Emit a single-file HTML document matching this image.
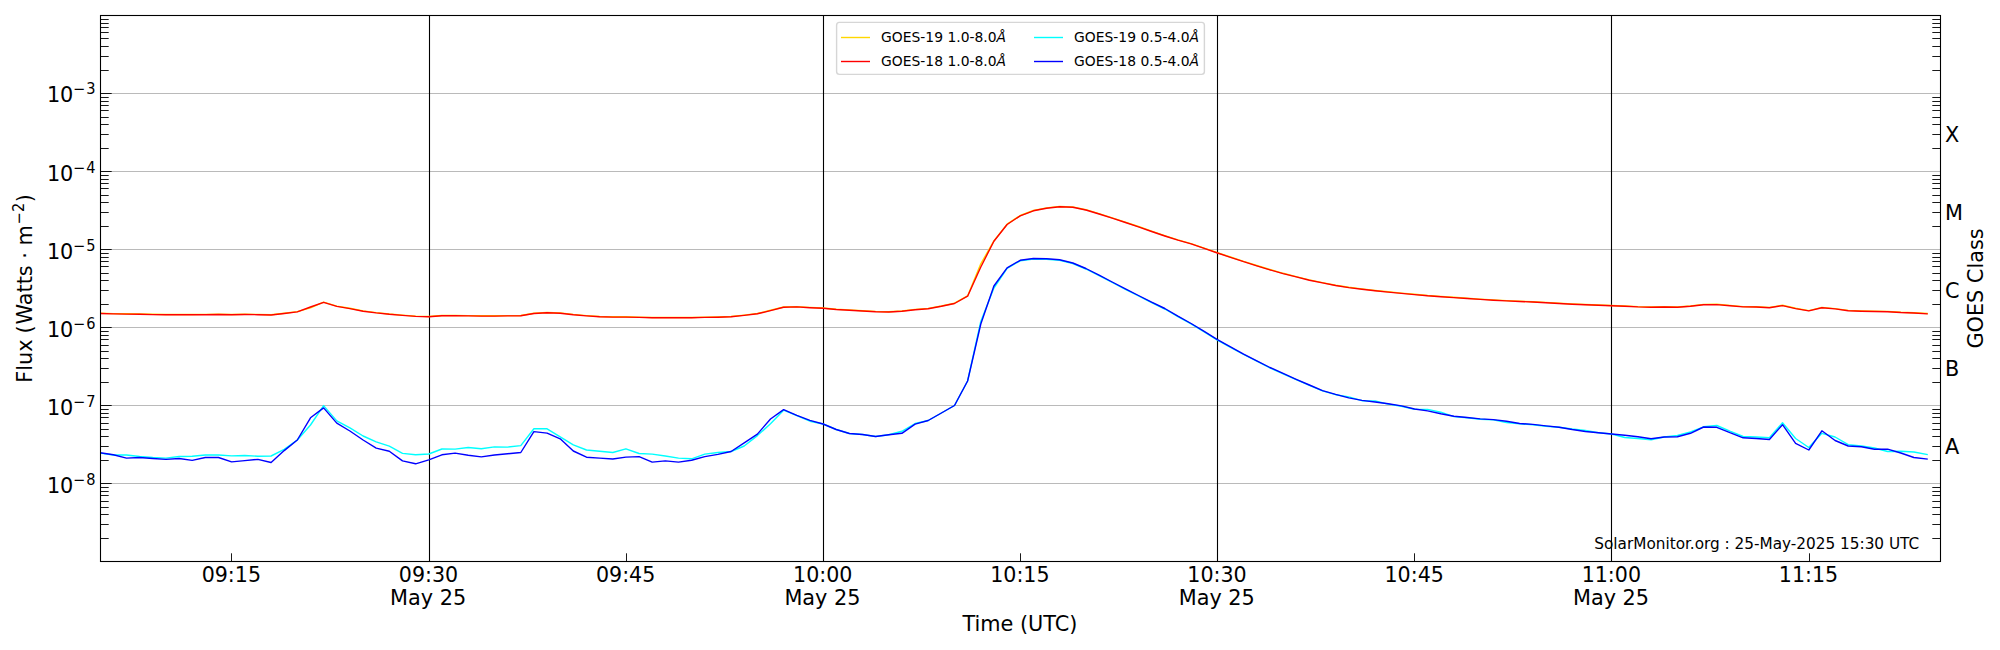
<!DOCTYPE html>
<html lang="en"><head><meta charset="utf-8"><title>GOES X-ray Flux</title>
<style>html,body{margin:0;padding:0;background:#fff}body{width:2000px;height:650px;overflow:hidden}svg{display:block}text{font-family:'DejaVu Sans','Liberation Sans',sans-serif;fill:#000}</style>
</head><body>
<svg width="2000" height="650" viewBox="0 0 2000 650">
<rect width="2000" height="650" fill="#fff"/>
<g stroke="#b0b0b0" stroke-width="0.88" fill="none">
<line x1="100.5" x2="1940.5" y1="483.5" y2="483.5"/>
<line x1="100.5" x2="1940.5" y1="405.5" y2="405.5"/>
<line x1="100.5" x2="1940.5" y1="327.5" y2="327.5"/>
<line x1="100.5" x2="1940.5" y1="249.5" y2="249.5"/>
<line x1="100.5" x2="1940.5" y1="171.5" y2="171.5"/>
<line x1="100.5" x2="1940.5" y1="93.5" y2="93.5"/>
</g>
<g stroke="#000" stroke-width="1.1" fill="none">
<line x1="429.5" x2="429.5" y1="15.5" y2="561.5"/>
<line x1="823.5" x2="823.5" y1="15.5" y2="561.5"/>
<line x1="1217.5" x2="1217.5" y1="15.5" y2="561.5"/>
<line x1="1611.5" x2="1611.5" y1="15.5" y2="561.5"/>
</g>
<clipPath id="ax"><rect x="100.5" y="15.5" width="1840.0" height="546.0"/></clipPath>
<g fill="none" stroke-width="1.4" stroke-linejoin="round" stroke-linecap="square" clip-path="url(#ax)">
<polyline stroke="#ffd700" points="100.2,313.2 113.3,313.6 126.5,313.8 139.6,313.9 152.8,314.3 165.9,314.5 179.1,314.5 192.2,314.5 205.3,314.4 218.5,314.2 231.6,314.5 244.8,314.2 257.9,314.4 271.1,314.7 284.2,313.2 297.3,311.6 310.5,307.9 323.6,302.1 336.8,306.1 349.9,308.3 363.1,310.9 376.2,312.6 389.3,314.0 402.5,315.1 415.6,316.1 428.8,316.5 441.9,315.5 455.1,315.5 468.2,315.6 481.3,315.8 494.5,315.8 507.6,315.6 520.8,315.5 533.9,313.2 547.1,312.5 560.2,312.9 573.3,314.4 586.5,315.6 599.6,316.5 612.8,316.8 625.9,316.8 639.1,317.1 652.2,317.5 665.3,317.5 678.5,317.5 691.6,317.5 704.8,317.1 717.9,316.9 731.1,316.5 744.2,315.1 757.4,313.5 770.5,310.3 783.6,307.0 796.8,306.6 809.9,307.4 823.1,308.0 836.2,309.2 849.4,309.9 862.5,310.7 875.6,311.4 888.8,311.7 901.9,311.0 915.1,309.4 928.2,308.4 941.4,306.0 954.5,303.2 967.6,295.9 980.8,263.8 993.9,240.9 1007.1,224.2 1020.2,215.5 1033.4,210.5 1046.5,207.9 1059.6,206.5 1072.8,206.9 1085.9,209.7 1099.1,213.7 1112.2,217.9 1125.4,222.2 1138.5,226.5 1151.6,231.2 1164.8,235.7 1177.9,239.9 1191.1,243.6 1204.2,248.1 1217.4,252.7 1230.5,257.0 1243.6,261.4 1256.8,265.5 1269.9,269.5 1283.1,273.3 1296.2,276.6 1309.4,279.9 1322.5,282.6 1335.6,285.2 1348.8,287.3 1361.9,288.9 1375.1,290.5 1388.2,291.8 1401.4,293.1 1414.5,294.3 1427.6,295.5 1440.8,296.4 1453.9,297.3 1467.1,298.2 1480.2,299.1 1493.4,299.9 1506.5,300.6 1519.6,301.2 1532.8,301.7 1545.9,302.4 1559.1,303.2 1572.2,303.9 1585.4,304.5 1598.5,305.0 1611.6,305.5 1624.8,306.0 1637.9,306.6 1651.1,306.9 1664.2,306.7 1677.4,307.0 1690.5,306.0 1703.6,304.4 1716.8,304.3 1729.9,305.4 1743.1,306.6 1756.2,306.7 1769.4,307.4 1782.5,305.3 1795.6,308.3 1808.8,310.6 1821.9,307.4 1835.1,308.6 1848.2,310.4 1861.4,310.9 1874.5,311.2 1887.6,311.4 1900.8,312.2 1913.9,312.7 1927.1,313.5"/>
<polyline stroke="#ff0000" points="100.2,313.5 113.3,313.9 126.5,314.1 139.6,314.2 152.8,314.6 165.9,314.8 179.1,314.8 192.2,314.8 205.3,314.7 218.5,314.5 231.6,314.8 244.8,314.5 257.9,314.7 271.1,315.0 284.2,313.5 297.3,311.9 310.5,307.0 323.6,302.4 336.8,306.4 349.9,308.6 363.1,311.2 376.2,312.9 389.3,314.3 402.5,315.4 415.6,316.4 428.8,316.8 441.9,315.8 455.1,315.8 468.2,315.9 481.3,316.1 494.5,316.1 507.6,315.9 520.8,315.8 533.9,313.5 547.1,312.8 560.2,313.2 573.3,314.7 586.5,315.9 599.6,316.8 612.8,317.1 625.9,317.1 639.1,317.4 652.2,317.8 665.3,317.8 678.5,317.8 691.6,317.8 704.8,317.4 717.9,317.2 731.1,316.8 744.2,315.4 757.4,313.8 770.5,310.6 783.6,307.3 796.8,306.9 809.9,307.7 823.1,308.3 836.2,309.5 849.4,310.2 862.5,311.0 875.6,311.7 888.8,312.0 901.9,311.3 915.1,309.7 928.2,308.7 941.4,306.3 954.5,303.5 967.6,296.2 980.8,267.0 993.9,241.2 1007.1,224.5 1020.2,215.8 1033.4,210.8 1046.5,208.2 1059.6,206.8 1072.8,207.2 1085.9,210.0 1099.1,214.0 1112.2,218.2 1125.4,222.5 1138.5,226.8 1151.6,231.5 1164.8,236.0 1177.9,240.2 1191.1,243.9 1204.2,248.4 1217.4,253.0 1230.5,257.3 1243.6,261.7 1256.8,265.8 1269.9,269.8 1283.1,273.6 1296.2,276.9 1309.4,280.2 1322.5,282.9 1335.6,285.5 1348.8,287.6 1361.9,289.2 1375.1,290.8 1388.2,292.1 1401.4,293.4 1414.5,294.6 1427.6,295.8 1440.8,296.7 1453.9,297.6 1467.1,298.5 1480.2,299.4 1493.4,300.2 1506.5,300.9 1519.6,301.5 1532.8,302.0 1545.9,302.7 1559.1,303.5 1572.2,304.2 1585.4,304.8 1598.5,305.3 1611.6,305.8 1624.8,306.3 1637.9,306.9 1651.1,307.2 1664.2,307.0 1677.4,307.3 1690.5,306.3 1703.6,304.7 1716.8,304.6 1729.9,305.7 1743.1,306.9 1756.2,307.0 1769.4,307.7 1782.5,305.6 1795.6,308.6 1808.8,310.9 1821.9,307.7 1835.1,308.9 1848.2,310.7 1861.4,311.2 1874.5,311.5 1887.6,311.7 1900.8,312.5 1913.9,313.0 1927.1,313.8"/>
<polyline stroke="#00ffff" points="100.2,453.1 113.3,455.0 126.5,455.0 139.6,456.5 152.8,457.5 165.9,458.1 179.1,456.5 192.2,456.2 205.3,455.0 218.5,455.0 231.6,455.9 244.8,455.5 257.9,456.2 271.1,456.0 284.2,449.4 297.3,440.0 310.5,425.0 323.6,405.6 336.8,420.9 349.9,427.8 363.1,436.0 376.2,441.9 389.3,446.2 402.5,453.4 415.6,454.8 428.8,454.0 441.9,449.0 455.1,449.1 468.2,447.5 481.3,448.8 494.5,446.9 507.6,447.1 520.8,445.6 533.9,428.8 547.1,428.8 560.2,436.9 573.3,444.8 586.5,450.0 599.6,451.2 612.8,452.5 625.9,448.8 639.1,453.5 652.2,454.1 665.3,456.0 678.5,458.1 691.6,458.8 704.8,454.1 717.9,452.5 731.1,451.5 744.2,446.0 757.4,435.6 770.5,423.8 783.6,410.2 796.8,415.6 809.9,421.2 823.1,424.0 836.2,429.5 849.4,433.5 862.5,434.5 875.6,436.5 888.8,434.8 901.9,431.3 915.1,423.5 928.2,420.5 941.4,413.0 954.5,405.5 967.6,381.0 980.8,321.5 993.9,288.0 1007.1,268.3 1020.2,260.8 1033.4,259.0 1046.5,259.2 1059.6,260.3 1072.8,263.5 1085.9,269.0 1099.1,275.7 1112.2,282.5 1125.4,289.3 1138.5,296.0 1151.6,302.7 1164.8,309.0 1177.9,316.6 1191.1,323.9 1204.2,331.8 1217.4,340.1 1230.5,347.3 1243.6,354.5 1256.8,361.2 1269.9,367.9 1283.1,373.8 1296.2,379.7 1309.4,385.4 1322.5,390.9 1335.6,394.7 1348.8,396.9 1361.9,400.7 1375.1,401.0 1388.2,404.1 1401.4,406.2 1414.5,409.3 1427.6,409.4 1440.8,412.2 1453.9,416.6 1467.1,417.8 1480.2,419.2 1493.4,419.9 1506.5,422.5 1519.6,423.8 1532.8,424.7 1545.9,426.2 1559.1,427.2 1572.2,429.0 1585.4,430.5 1598.5,432.8 1611.6,434.0 1624.8,437.5 1637.9,438.5 1651.1,439.7 1664.2,437.0 1677.4,435.5 1690.5,432.0 1703.6,426.8 1716.8,425.5 1729.9,431.2 1743.1,436.5 1756.2,437.0 1769.4,437.8 1782.5,422.8 1795.6,438.5 1808.8,447.5 1821.9,433.3 1835.1,437.0 1848.2,444.7 1861.4,446.0 1874.5,448.0 1887.6,451.5 1900.8,451.2 1913.9,452.0 1927.1,454.5"/>
<polyline stroke="#0000ff" points="100.2,452.8 113.3,454.8 126.5,458.1 139.6,457.5 152.8,458.5 165.9,459.4 179.1,458.5 192.2,460.4 205.3,457.5 218.5,457.5 231.6,461.9 244.8,460.6 257.9,459.4 271.1,462.5 284.2,450.6 297.3,440.0 310.5,417.8 323.6,407.9 336.8,423.1 349.9,431.0 363.1,440.0 376.2,448.1 389.3,451.2 402.5,460.9 415.6,463.8 428.8,459.8 441.9,454.8 455.1,453.1 468.2,455.2 481.3,456.9 494.5,455.0 507.6,453.8 520.8,452.5 533.9,431.6 547.1,433.1 560.2,438.8 573.3,451.0 586.5,457.2 599.6,458.1 612.8,459.0 625.9,457.1 639.1,456.6 652.2,462.1 665.3,460.9 678.5,462.1 691.6,460.2 704.8,456.6 717.9,454.4 731.1,451.5 744.2,442.9 757.4,434.1 770.5,419.0 783.6,409.6 796.8,415.4 809.9,420.4 823.1,424.0 836.2,429.5 849.4,433.5 862.5,434.5 875.6,436.5 888.8,434.8 901.9,433.3 915.1,424.2 928.2,420.5 941.4,413.0 954.5,405.5 967.6,381.0 980.8,324.0 993.9,286.0 1007.1,267.8 1020.2,260.3 1033.4,258.5 1046.5,258.7 1059.6,259.8 1072.8,263.0 1085.9,268.5 1099.1,275.2 1112.2,282.0 1125.4,288.8 1138.5,295.5 1151.6,302.2 1164.8,308.5 1177.9,316.2 1191.1,323.5 1204.2,331.4 1217.4,339.7 1230.5,346.9 1243.6,354.1 1256.8,360.8 1269.9,367.5 1283.1,373.4 1296.2,379.3 1309.4,385.0 1322.5,390.6 1335.6,394.4 1348.8,397.9 1361.9,400.4 1375.1,402.0 1388.2,403.8 1401.4,405.9 1414.5,409.0 1427.6,410.9 1440.8,413.8 1453.9,416.2 1467.1,417.5 1480.2,418.9 1493.4,419.6 1506.5,421.2 1519.6,423.5 1532.8,424.4 1545.9,425.9 1559.1,427.2 1572.2,429.5 1585.4,431.5 1598.5,432.8 1611.6,434.0 1624.8,435.2 1637.9,436.7 1651.1,438.7 1664.2,437.0 1677.4,436.8 1690.5,433.3 1703.6,427.0 1716.8,427.3 1729.9,432.7 1743.1,437.8 1756.2,438.5 1769.4,439.5 1782.5,424.7 1795.6,443.3 1808.8,450.0 1821.9,430.8 1835.1,440.5 1848.2,446.0 1861.4,446.8 1874.5,449.3 1887.6,449.2 1900.8,453.0 1913.9,457.5 1927.1,459.0"/>
</g>
<g stroke="#000" stroke-width="0.9" fill="none">
<line x1="100.5" x2="108.7" y1="538.5" y2="538.5"/>
<line x1="1932.3" x2="1940.5" y1="538.5" y2="538.5"/>
<line x1="100.5" x2="108.7" y1="524.5" y2="524.5"/>
<line x1="1932.3" x2="1940.5" y1="524.5" y2="524.5"/>
<line x1="100.5" x2="108.7" y1="514.5" y2="514.5"/>
<line x1="1932.3" x2="1940.5" y1="514.5" y2="514.5"/>
<line x1="100.5" x2="108.7" y1="507.5" y2="507.5"/>
<line x1="1932.3" x2="1940.5" y1="507.5" y2="507.5"/>
<line x1="100.5" x2="108.7" y1="501.5" y2="501.5"/>
<line x1="1932.3" x2="1940.5" y1="501.5" y2="501.5"/>
<line x1="100.5" x2="108.7" y1="495.5" y2="495.5"/>
<line x1="1932.3" x2="1940.5" y1="495.5" y2="495.5"/>
<line x1="100.5" x2="108.7" y1="491.5" y2="491.5"/>
<line x1="1932.3" x2="1940.5" y1="491.5" y2="491.5"/>
<line x1="100.5" x2="108.7" y1="487.5" y2="487.5"/>
<line x1="1932.3" x2="1940.5" y1="487.5" y2="487.5"/>
<line x1="100.5" x2="111.7" y1="483.5" y2="483.5"/>
<line x1="100.5" x2="108.7" y1="460.5" y2="460.5"/>
<line x1="1932.3" x2="1940.5" y1="460.5" y2="460.5"/>
<line x1="100.5" x2="108.7" y1="446.5" y2="446.5"/>
<line x1="1932.3" x2="1940.5" y1="446.5" y2="446.5"/>
<line x1="100.5" x2="108.7" y1="436.5" y2="436.5"/>
<line x1="1932.3" x2="1940.5" y1="436.5" y2="436.5"/>
<line x1="100.5" x2="108.7" y1="429.5" y2="429.5"/>
<line x1="1932.3" x2="1940.5" y1="429.5" y2="429.5"/>
<line x1="100.5" x2="108.7" y1="423.5" y2="423.5"/>
<line x1="1932.3" x2="1940.5" y1="423.5" y2="423.5"/>
<line x1="100.5" x2="108.7" y1="417.5" y2="417.5"/>
<line x1="1932.3" x2="1940.5" y1="417.5" y2="417.5"/>
<line x1="100.5" x2="108.7" y1="413.5" y2="413.5"/>
<line x1="1932.3" x2="1940.5" y1="413.5" y2="413.5"/>
<line x1="100.5" x2="108.7" y1="409.5" y2="409.5"/>
<line x1="1932.3" x2="1940.5" y1="409.5" y2="409.5"/>
<line x1="100.5" x2="111.7" y1="405.5" y2="405.5"/>
<line x1="100.5" x2="108.7" y1="382.5" y2="382.5"/>
<line x1="1932.3" x2="1940.5" y1="382.5" y2="382.5"/>
<line x1="100.5" x2="108.7" y1="368.5" y2="368.5"/>
<line x1="1932.3" x2="1940.5" y1="368.5" y2="368.5"/>
<line x1="100.5" x2="108.7" y1="358.5" y2="358.5"/>
<line x1="1932.3" x2="1940.5" y1="358.5" y2="358.5"/>
<line x1="100.5" x2="108.7" y1="351.5" y2="351.5"/>
<line x1="1932.3" x2="1940.5" y1="351.5" y2="351.5"/>
<line x1="100.5" x2="108.7" y1="345.5" y2="345.5"/>
<line x1="1932.3" x2="1940.5" y1="345.5" y2="345.5"/>
<line x1="100.5" x2="108.7" y1="339.5" y2="339.5"/>
<line x1="1932.3" x2="1940.5" y1="339.5" y2="339.5"/>
<line x1="100.5" x2="108.7" y1="335.5" y2="335.5"/>
<line x1="1932.3" x2="1940.5" y1="335.5" y2="335.5"/>
<line x1="100.5" x2="108.7" y1="331.5" y2="331.5"/>
<line x1="1932.3" x2="1940.5" y1="331.5" y2="331.5"/>
<line x1="100.5" x2="111.7" y1="327.5" y2="327.5"/>
<line x1="100.5" x2="108.7" y1="304.5" y2="304.5"/>
<line x1="1932.3" x2="1940.5" y1="304.5" y2="304.5"/>
<line x1="100.5" x2="108.7" y1="290.5" y2="290.5"/>
<line x1="1932.3" x2="1940.5" y1="290.5" y2="290.5"/>
<line x1="100.5" x2="108.7" y1="280.5" y2="280.5"/>
<line x1="1932.3" x2="1940.5" y1="280.5" y2="280.5"/>
<line x1="100.5" x2="108.7" y1="273.5" y2="273.5"/>
<line x1="1932.3" x2="1940.5" y1="273.5" y2="273.5"/>
<line x1="100.5" x2="108.7" y1="266.5" y2="266.5"/>
<line x1="1932.3" x2="1940.5" y1="266.5" y2="266.5"/>
<line x1="100.5" x2="108.7" y1="261.5" y2="261.5"/>
<line x1="1932.3" x2="1940.5" y1="261.5" y2="261.5"/>
<line x1="100.5" x2="108.7" y1="257.5" y2="257.5"/>
<line x1="1932.3" x2="1940.5" y1="257.5" y2="257.5"/>
<line x1="100.5" x2="108.7" y1="253.5" y2="253.5"/>
<line x1="1932.3" x2="1940.5" y1="253.5" y2="253.5"/>
<line x1="100.5" x2="111.7" y1="249.5" y2="249.5"/>
<line x1="100.5" x2="108.7" y1="226.5" y2="226.5"/>
<line x1="1932.3" x2="1940.5" y1="226.5" y2="226.5"/>
<line x1="100.5" x2="108.7" y1="212.5" y2="212.5"/>
<line x1="1932.3" x2="1940.5" y1="212.5" y2="212.5"/>
<line x1="100.5" x2="108.7" y1="202.5" y2="202.5"/>
<line x1="1932.3" x2="1940.5" y1="202.5" y2="202.5"/>
<line x1="100.5" x2="108.7" y1="195.5" y2="195.5"/>
<line x1="1932.3" x2="1940.5" y1="195.5" y2="195.5"/>
<line x1="100.5" x2="108.7" y1="188.5" y2="188.5"/>
<line x1="1932.3" x2="1940.5" y1="188.5" y2="188.5"/>
<line x1="100.5" x2="108.7" y1="183.5" y2="183.5"/>
<line x1="1932.3" x2="1940.5" y1="183.5" y2="183.5"/>
<line x1="100.5" x2="108.7" y1="179.5" y2="179.5"/>
<line x1="1932.3" x2="1940.5" y1="179.5" y2="179.5"/>
<line x1="100.5" x2="108.7" y1="175.5" y2="175.5"/>
<line x1="1932.3" x2="1940.5" y1="175.5" y2="175.5"/>
<line x1="100.5" x2="111.7" y1="171.5" y2="171.5"/>
<line x1="100.5" x2="108.7" y1="148.5" y2="148.5"/>
<line x1="1932.3" x2="1940.5" y1="148.5" y2="148.5"/>
<line x1="100.5" x2="108.7" y1="134.5" y2="134.5"/>
<line x1="1932.3" x2="1940.5" y1="134.5" y2="134.5"/>
<line x1="100.5" x2="108.7" y1="124.5" y2="124.5"/>
<line x1="1932.3" x2="1940.5" y1="124.5" y2="124.5"/>
<line x1="100.5" x2="108.7" y1="117.5" y2="117.5"/>
<line x1="1932.3" x2="1940.5" y1="117.5" y2="117.5"/>
<line x1="100.5" x2="108.7" y1="110.5" y2="110.5"/>
<line x1="1932.3" x2="1940.5" y1="110.5" y2="110.5"/>
<line x1="100.5" x2="108.7" y1="105.5" y2="105.5"/>
<line x1="1932.3" x2="1940.5" y1="105.5" y2="105.5"/>
<line x1="100.5" x2="108.7" y1="101.5" y2="101.5"/>
<line x1="1932.3" x2="1940.5" y1="101.5" y2="101.5"/>
<line x1="100.5" x2="108.7" y1="97.5" y2="97.5"/>
<line x1="1932.3" x2="1940.5" y1="97.5" y2="97.5"/>
<line x1="100.5" x2="111.7" y1="93.5" y2="93.5"/>
<line x1="100.5" x2="108.7" y1="70.5" y2="70.5"/>
<line x1="1932.3" x2="1940.5" y1="70.5" y2="70.5"/>
<line x1="100.5" x2="108.7" y1="56.5" y2="56.5"/>
<line x1="1932.3" x2="1940.5" y1="56.5" y2="56.5"/>
<line x1="100.5" x2="108.7" y1="46.5" y2="46.5"/>
<line x1="1932.3" x2="1940.5" y1="46.5" y2="46.5"/>
<line x1="100.5" x2="108.7" y1="38.5" y2="38.5"/>
<line x1="1932.3" x2="1940.5" y1="38.5" y2="38.5"/>
<line x1="100.5" x2="108.7" y1="32.5" y2="32.5"/>
<line x1="1932.3" x2="1940.5" y1="32.5" y2="32.5"/>
<line x1="100.5" x2="108.7" y1="27.5" y2="27.5"/>
<line x1="1932.3" x2="1940.5" y1="27.5" y2="27.5"/>
<line x1="100.5" x2="108.7" y1="23.5" y2="23.5"/>
<line x1="1932.3" x2="1940.5" y1="23.5" y2="23.5"/>
<line x1="100.5" x2="108.7" y1="19.5" y2="19.5"/>
<line x1="1932.3" x2="1940.5" y1="19.5" y2="19.5"/>
<line x1="231.5" x2="231.5" y1="553.3" y2="561.5"/>
<line x1="626.5" x2="626.5" y1="553.3" y2="561.5"/>
<line x1="1020.5" x2="1020.5" y1="553.3" y2="561.5"/>
<line x1="1414.5" x2="1414.5" y1="553.3" y2="561.5"/>
<line x1="1809.5" x2="1809.5" y1="553.3" y2="561.5"/>
</g>
<rect x="100.5" y="15.5" width="1840.0" height="546.0" stroke="#000" stroke-width="1.1" fill="none"/>
<text transform="translate(95.45,493.00) scale(1,1.0535)" font-size="20.83px" text-anchor="end">10<tspan font-size="14.58px" dy="-7.9">−<tspan dx="0.6">8</tspan></tspan></text>
<text transform="translate(95.45,415.00) scale(1,1.0535)" font-size="20.83px" text-anchor="end">10<tspan font-size="14.58px" dy="-7.9">−<tspan dx="0.6">7</tspan></tspan></text>
<text transform="translate(95.45,337.00) scale(1,1.0535)" font-size="20.83px" text-anchor="end">10<tspan font-size="14.58px" dy="-7.9">−<tspan dx="0.6">6</tspan></tspan></text>
<text transform="translate(95.45,259.00) scale(1,1.0535)" font-size="20.83px" text-anchor="end">10<tspan font-size="14.58px" dy="-7.9">−<tspan dx="0.6">5</tspan></tspan></text>
<text transform="translate(95.45,181.00) scale(1,1.0535)" font-size="20.83px" text-anchor="end">10<tspan font-size="14.58px" dy="-7.9">−<tspan dx="0.6">4</tspan></tspan></text>
<text transform="translate(95.45,102.00) scale(1,1.0535)" font-size="20.83px" text-anchor="end">10<tspan font-size="14.58px" dy="-7.9">−<tspan dx="0.6">3</tspan></tspan></text>
<text transform="translate(231.33,582.00) scale(0.99,1.0535)" font-size="20.83px" text-anchor="middle">09:15</text>
<text transform="translate(428.47,582.00) scale(0.99,1.0535)" font-size="20.83px" text-anchor="middle">09:30</text>
<text transform="translate(428.17,605.00) scale(1,1.0535)" font-size="20.83px" text-anchor="middle">May 25</text>
<text transform="translate(625.61,582.00) scale(0.99,1.0535)" font-size="20.83px" text-anchor="middle">09:45</text>
<text transform="translate(822.76,582.00) scale(0.99,1.0535)" font-size="20.83px" text-anchor="middle">10:00</text>
<text transform="translate(822.46,605.00) scale(1,1.0535)" font-size="20.83px" text-anchor="middle">May 25</text>
<text transform="translate(1019.90,582.00) scale(0.99,1.0535)" font-size="20.83px" text-anchor="middle">10:15</text>
<text transform="translate(1217.04,582.00) scale(0.99,1.0535)" font-size="20.83px" text-anchor="middle">10:30</text>
<text transform="translate(1216.74,605.00) scale(1,1.0535)" font-size="20.83px" text-anchor="middle">May 25</text>
<text transform="translate(1414.19,582.00) scale(0.99,1.0535)" font-size="20.83px" text-anchor="middle">10:45</text>
<text transform="translate(1611.33,582.00) scale(0.99,1.0535)" font-size="20.83px" text-anchor="middle">11:00</text>
<text transform="translate(1611.03,605.00) scale(1,1.0535)" font-size="20.83px" text-anchor="middle">May 25</text>
<text transform="translate(1808.47,582.00) scale(0.99,1.0535)" font-size="20.83px" text-anchor="middle">11:15</text>
<text transform="translate(1019.90,631.00) scale(1,1.0535)" font-size="20.83px" text-anchor="middle">Time (UTC)</text>
<text transform="translate(31.60,382.70) rotate(-90) scale(1,1.0535)" font-size="20.83px" text-anchor="start">Flux <tspan dx="-0.7">(</tspan><tspan dx="0.9">Watts · m</tspan><tspan font-size="14.58px" dy="-6.8" dx="0.9">−<tspan dx="0">2</tspan></tspan><tspan dy="6.8" dx="0.6">)</tspan></text>
<text transform="translate(1945.10,453.70) scale(1,1.0535)" font-size="20.83px" text-anchor="start">A</text>
<text transform="translate(1945.10,375.70) scale(1,1.0535)" font-size="20.83px" text-anchor="start">B</text>
<text transform="translate(1945.10,297.70) scale(1,1.0535)" font-size="20.83px" text-anchor="start">C</text>
<text transform="translate(1945.10,219.70) scale(1,1.0535)" font-size="20.83px" text-anchor="start">M</text>
<text transform="translate(1945.10,141.70) scale(1,1.0535)" font-size="20.83px" text-anchor="start">X</text>
<text transform="translate(1983.20,288.50) rotate(-90) scale(1,1.0535)" font-size="20.83px" text-anchor="middle">GOES Class</text>
<text transform="translate(1919.20,549.00) scale(1,1.03)" font-size="15.28px" text-anchor="end">SolarMonitor.org : 25-May-2025 15:30 UTC</text>
<rect x="836.6" y="22.4" width="367.8" height="52" rx="2.8" ry="2.8" fill="#fff" fill-opacity="0.8" stroke="#cccccc" stroke-opacity="0.8" stroke-width="1.4"/>
<g fill="none" stroke-width="1.4">
<line x1="841" x2="870" y1="37.5" y2="37.5" stroke="#ffd700"/>
<line x1="841" x2="870" y1="61.5" y2="61.5" stroke="#ff0000"/>
<line x1="1034" x2="1063" y1="37.5" y2="37.5" stroke="#00ffff"/>
<line x1="1034" x2="1063" y1="61.5" y2="61.5" stroke="#0000ff"/>
</g>
<text transform="translate(881.10,42.00)" font-size="13.89px" text-anchor="start">GOES-19 1.0-8.0<tspan font-style="italic">Å</tspan></text>
<text transform="translate(881.10,66.20)" font-size="13.89px" text-anchor="start">GOES-18 1.0-8.0<tspan font-style="italic">Å</tspan></text>
<text transform="translate(1074.10,42.00)" font-size="13.89px" text-anchor="start">GOES-19 0.5-4.0<tspan font-style="italic">Å</tspan></text>
<text transform="translate(1074.10,66.20)" font-size="13.89px" text-anchor="start">GOES-18 0.5-4.0<tspan font-style="italic">Å</tspan></text>
</svg></body></html>
